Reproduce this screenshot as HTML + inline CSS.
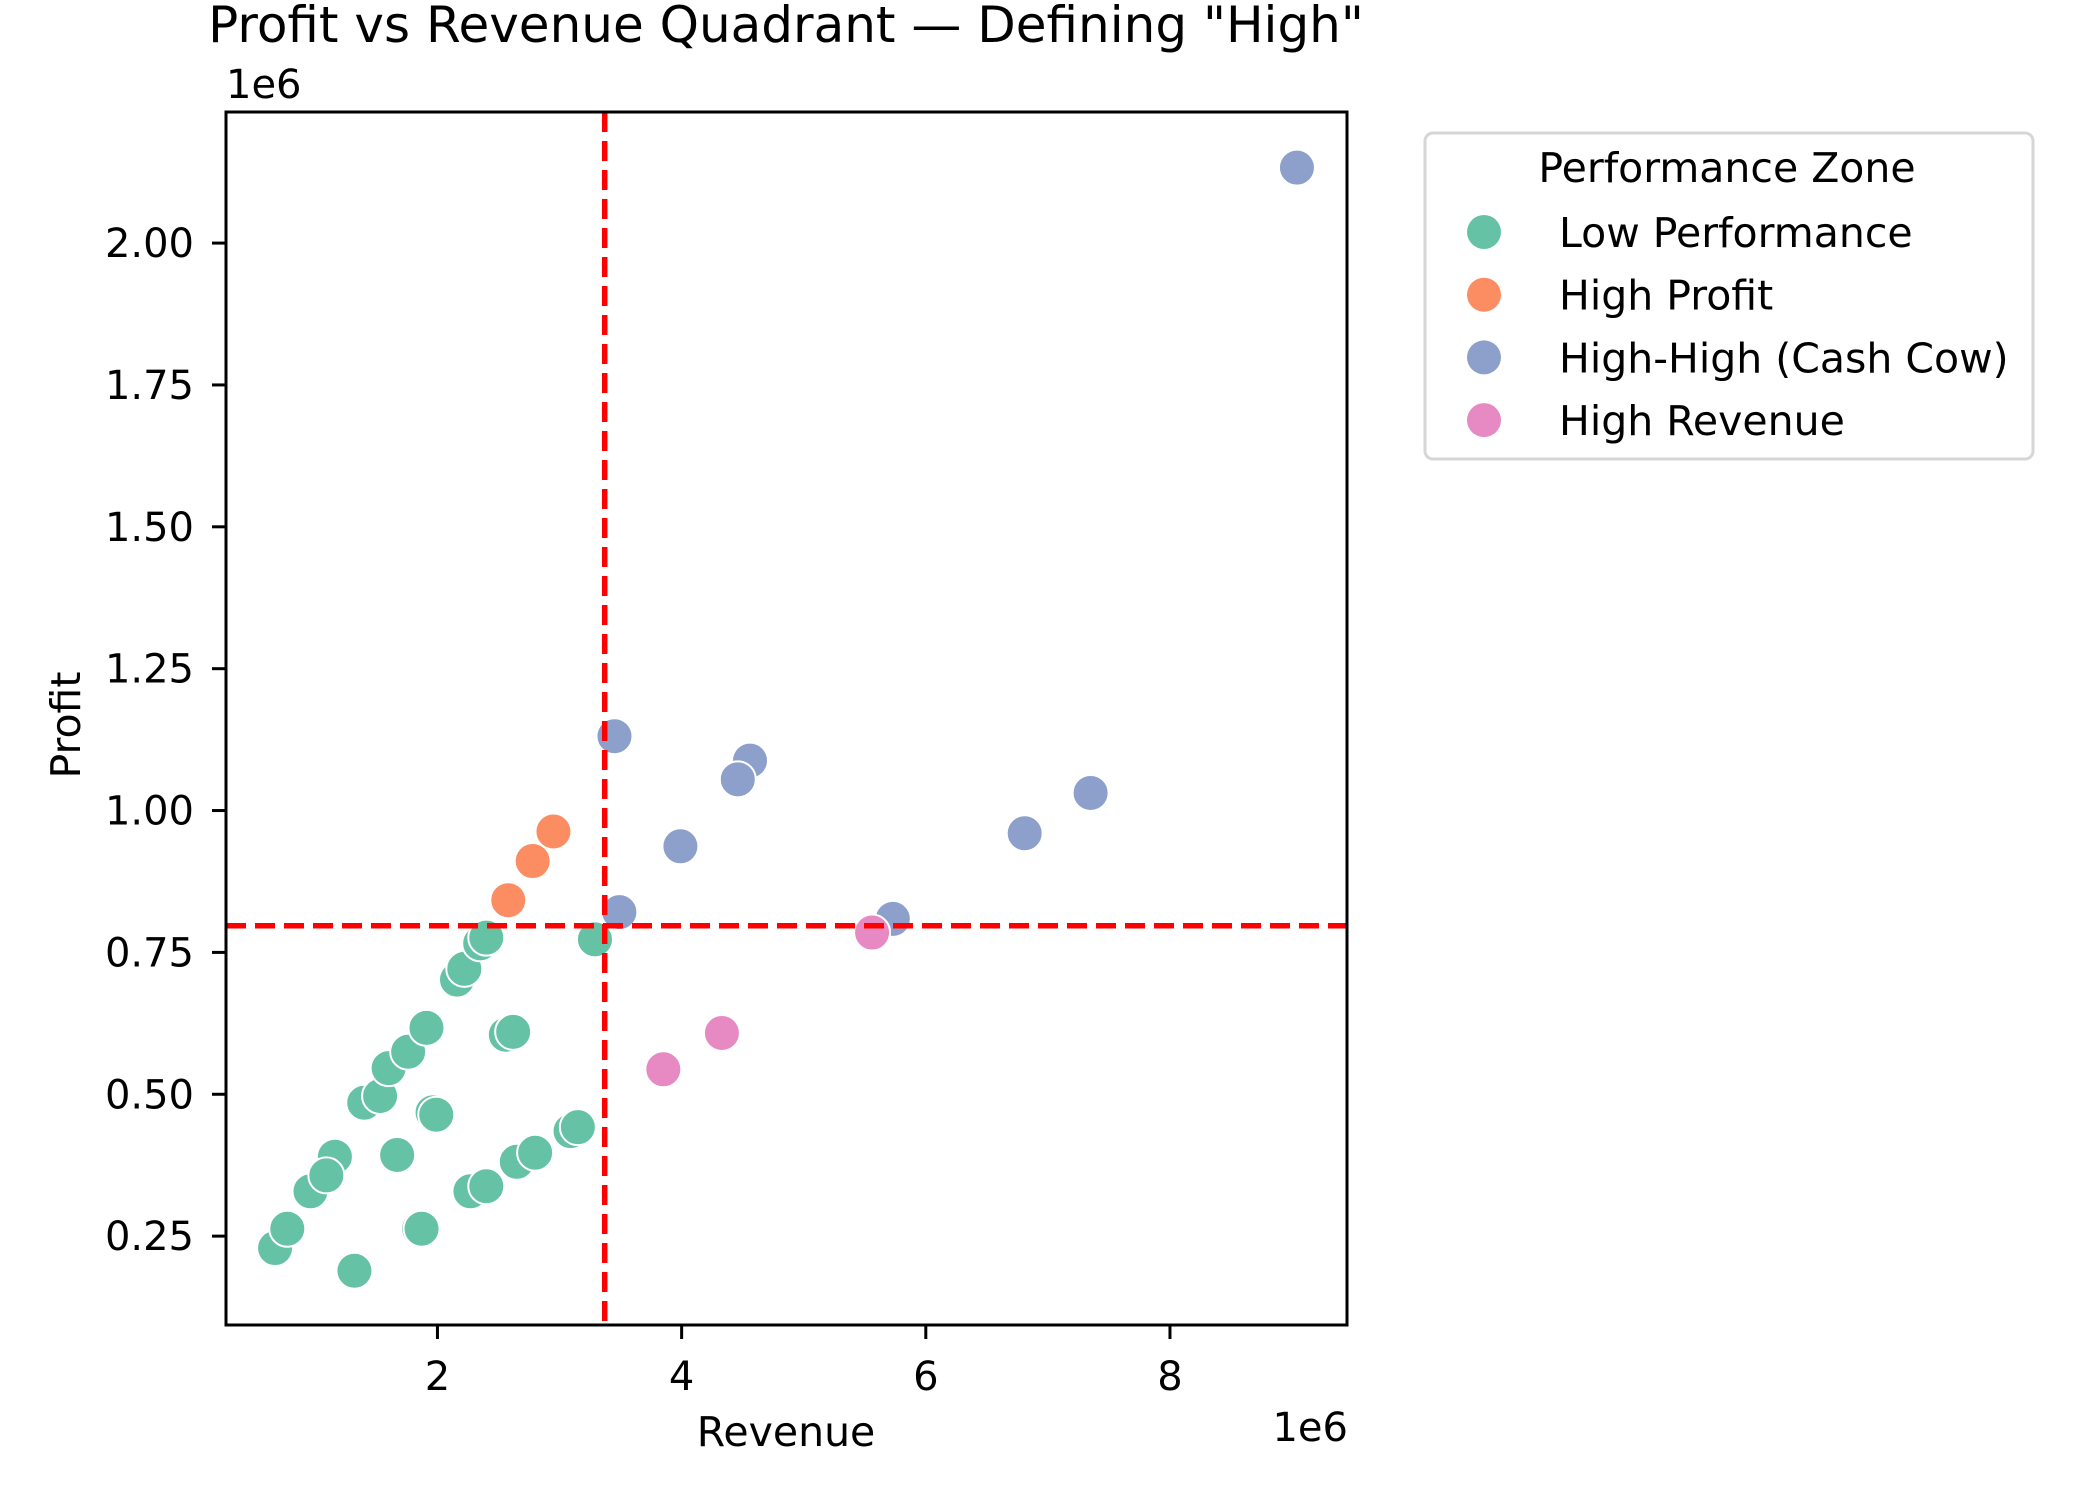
<!DOCTYPE html>
<html><head><meta charset="utf-8"><style>
html,body{margin:0;padding:0;background:#fff;}
svg text{font-family:"DejaVu Sans","Liberation Sans",sans-serif;fill:#000;}
</style></head><body>
<svg id="chart" width="2100" height="1500" viewBox="0 0 2100 1500" xmlns="http://www.w3.org/2000/svg">
<text x="786" y="42" font-size="50" text-anchor="middle">Profit vs Revenue Quadrant — Defining "High"</text>
<g id="plot"></g>
<rect x="226" y="112" width="1121" height="1213" fill="none" stroke="#000" stroke-width="3"/>
<text x="226" y="98" font-size="40">1e6</text>
<text x="1348" y="1441" font-size="40" text-anchor="end">1e6</text>
<text x="786" y="1446" font-size="41" text-anchor="middle">Revenue</text>
<text x="80" y="725" font-size="41" text-anchor="middle" transform="rotate(-90 80 725)">Profit</text>
<g>
<rect x="1425" y="133" width="608" height="326" rx="8" fill="#fff" stroke="#d6d6d6" stroke-width="3"/>
<text x="1727" y="182" font-size="41" text-anchor="middle">Performance Zone</text>
<g id="legend-entries"></g>
</g>
</svg>
<script>
const categories = ["Low Performance","High Profit","High-High (Cash Cow)","High Revenue"];
const colors = ["#66c2a5","#fc8d62","#8da0cb","#e78ac3"];
const lowRevenue = [0.67,0.77,1.32,0.96,1.16,1.09,1.40,1.53,1.60,1.76,1.91,1.67,1.85,1.87,1.96,1.99,2.16,2.22,2.35,2.40,2.56,2.62,2.27,2.40,2.65,2.80,3.09,3.15,3.29];
const lowProfit  = [0.229,0.263,0.189,0.329,0.390,0.357,0.485,0.497,0.546,0.575,0.617,0.393,0.263,0.263,0.468,0.464,0.702,0.721,0.766,0.776,0.605,0.610,0.329,0.338,0.381,0.397,0.435,0.442,0.773];
const hpRevenue = [2.58,2.78,2.95];
const hpProfit  = [0.842,0.911,0.963];
const hhRevenue = [9.04,3.45,4.56,4.46,3.99,3.49,5.73,6.81,7.35];
const hhProfit  = [2.133,1.131,1.088,1.055,0.937,0.821,0.809,0.960,1.031];
const hrRevenue = [5.56,3.85,4.33];
const hrProfit  = [0.785,0.544,0.608];
const xTicks = [2,4,6,8];
const yTicks = [0.25,0.5,0.75,1.0,1.25,1.5,1.75,2.0];
const yTickLabels = ["0.25","0.50","0.75","1.00","1.25","1.50","1.75","2.00"];
const revenueThreshold = 3.37;
const profitThreshold = 0.797;

const NS="http://www.w3.org/2000/svg";
const X0=226,X1=1347,Y0=112,Y1=1325;
const xMin=0.268,xMax=9.45,yMin=0.0934,yMax=2.231;
function sx(v){return X0+(v-xMin)/(xMax-xMin)*(X1-X0);}
function sy(v){return Y1-(v-yMin)/(yMax-yMin)*(Y1-Y0);}
function mk(tag,attrs,parent){const e=document.createElementNS(NS,tag);for(const k in attrs)e.setAttribute(k,attrs[k]);parent.appendChild(e);return e;}
const svg=document.getElementById('chart');
const plot=document.getElementById('plot');

xTicks.forEach(t=>{
  const l=mk('line',{x1:sx(t),x2:sx(t),y1:Y1,y2:Y1+14,stroke:'#000','stroke-width':3},svg);
  
  
  const tx=mk('text',{x:sx(t),y:1390,'font-size':40,'text-anchor':'middle'},svg);
  tx.textContent=String(t);
  
  
});
yTicks.forEach((t,i)=>{
  const l=mk('line',{x1:X0-14,x2:X0,y1:sy(t),y2:sy(t),stroke:'#000','stroke-width':3},svg);
  
  
  const tx=mk('text',{x:194,y:sy(t)+14,'font-size':40,'text-anchor':'end'},svg);
  tx.textContent=yTickLabels[i];
  
  
});

const series=[[lowRevenue,lowProfit],[hpRevenue,hpProfit],[hhRevenue,hhProfit],[hrRevenue,hrProfit]];
const names=['low-performance-point','high-profit-point','cash-cow-point','high-revenue-point'];
series.forEach((s,k)=>{
  s[0].forEach((rv,i)=>{
    const c=mk('circle',{cx:sx(rv),cy:sy(s[1][i]),r:18,fill:colors[k],stroke:'#fff','stroke-width':2},plot);
    
    
  });
});

const vl=mk('line',{x1:sx(revenueThreshold),x2:sx(revenueThreshold),y1:Y0,y2:Y1,stroke:'#ff0000','stroke-width':5.5,'stroke-dasharray':'20 9'},plot);


const hl=mk('line',{x1:X0,x2:X1,y1:sy(profitThreshold),y2:sy(profitThreshold),stroke:'#ff0000','stroke-width':5.5,'stroke-dasharray':'20 9'},plot);



const lg=document.getElementById('legend-entries');
categories.forEach((c,i)=>{
  const y=232+i*62.7;
  const m=mk('circle',{cx:1484,cy:y,r:17,fill:colors[i]},lg);
  
  
  const t=mk('text',{x:1559,y:y+15,'font-size':41},lg);
  t.textContent=c;
  
  
});
</script>
</body></html>
